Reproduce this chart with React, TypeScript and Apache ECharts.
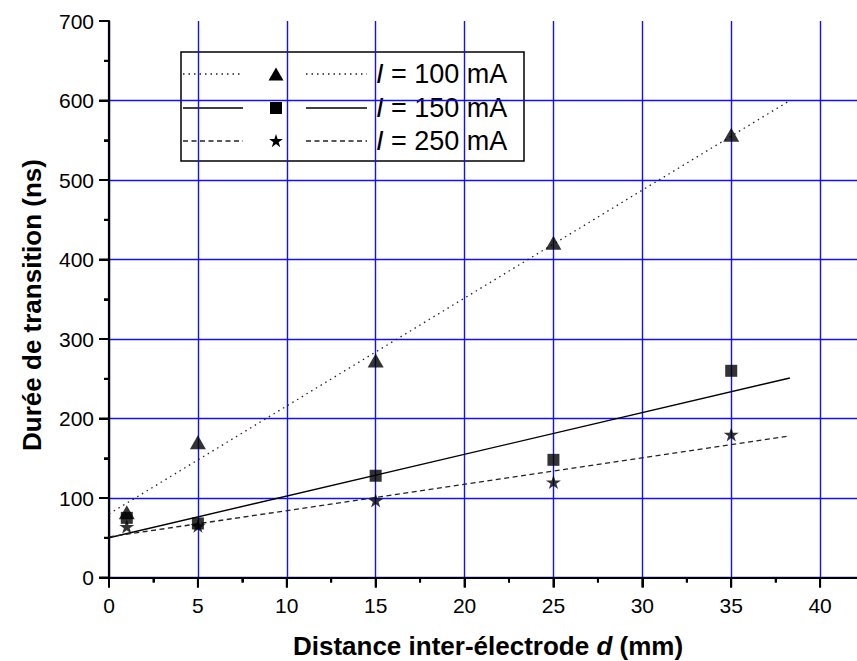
import React, { useEffect, useRef } from 'react';
import * as echarts from 'echarts';

// Data
const distances = [1, 5, 15, 25, 35]; // d (mm)
const dur100 = [82, 170, 273, 421, 557]; // I = 100 mA (ns)
const dur150 = [75, 68, 128, 148, 260]; // I = 150 mA (ns)
const dur250 = [64, 65, 97, 120, 180]; // I = 250 mA (ns)
const fit100 = [[0, 80], [38.3, 600]];
const fit150 = [[0, 50], [38.3, 251]];
const fit250 = [[0, 51], [38.3, 178]];
const currents = ['100 mA', '150 mA', '250 mA'];
const xMajorTicks = [0, 5, 10, 15, 20, 25, 30, 35, 40];
const xMinorTicks = [2.5, 7.5, 12.5, 17.5, 22.5, 27.5, 32.5, 37.5];
const yMajorTicks = [0, 100, 200, 300, 400, 500, 600, 700];
const yMinorTicks = [50, 150, 250, 350, 450, 550, 650];
const xTitle = 'Distance inter-électrode {i|d} (mm)';
const yTitle = 'Durée de transition (ns)';

const FONT = '"Liberation Sans", Arial, Helvetica, sans-serif';
const STAR_PATH =
  'M50 0 L61.23 34.55 L97.55 34.55 L68.17 55.9 L79.39 90.45 L50 69.1 L20.61 90.45 L31.83 55.9 L2.45 34.55 L38.77 34.55 Z';
const STAR_PTS = [
  [50, 0], [61.23, 34.55], [97.55, 34.55], [68.17, 55.9], [79.39, 90.45],
  [50, 69.1], [20.61, 90.45], [31.83, 55.9], [2.45, 34.55], [38.77, 34.55],
];

const lineStyles = [
  { stroke: '#222', lineWidth: 1.3, lineDash: [1.5, 4] },
  { stroke: '#000', lineWidth: 1.4, lineDash: null },
  { stroke: '#222', lineWidth: 1.3, lineDash: [5, 3.5] },
];

function legendGraphic() {
  const rowsY = [74, 108, 141];
  const children: any[] = [
    {
      type: 'rect',
      shape: { x: 181, y: 52, width: 343, height: 109 },
      style: { fill: '#fff', stroke: '#000', lineWidth: 1.5 },
    },
  ];
  rowsY.forEach((y, i) => {
    const ls = lineStyles[i];
    const st: any = { stroke: ls.stroke, lineWidth: ls.lineWidth };
    if (ls.lineDash) st.lineDash = ls.lineDash;
    children.push({ type: 'line', shape: { x1: 183, y1: y, x2: 243, y2: y }, style: { ...st } });
    children.push({ type: 'line', shape: { x1: 306, y1: y, x2: 367, y2: y }, style: { ...st } });
    const cx = 276;
    if (i === 0) {
      children.push({
        type: 'polygon',
        shape: { points: [[cx - 7.5, y + 6.5], [cx + 7.5, y + 6.5], [cx, y - 6.5]] },
        style: { fill: '#000' },
      });
    } else if (i === 1) {
      children.push({ type: 'rect', shape: { x: cx - 6, y: y - 6, width: 12, height: 12 }, style: { fill: '#000' } });
    } else {
      const s = 0.145;
      children.push({
        type: 'polygon',
        shape: { points: STAR_PTS.map(([px, py]) => [cx + (px - 50) * s, y + (py - 48) * s]) },
        style: { fill: '#000' },
      });
    }
    children.push({
      type: 'text',
      x: 376,
      y: y,
      style: {
        text: '{i|I} = ' + currents[i],
        fontSize: 27,
        fontFamily: FONT,
        fill: '#000',
        align: 'left',
        verticalAlign: 'middle',
        rich: { i: { fontStyle: 'italic', fontSize: 27, fontFamily: FONT, fill: '#000' } },
      },
    });
  });
  return { type: 'group', z: 100, children };
}

// Tick marks drawn through the axes' own scales (value -> pixel via api.coord)
function tickSeries(values: number[], onX: boolean, len: number) {
  return {
    type: 'custom',
    coordinateSystem: 'cartesian2d',
    clip: false,
    silent: true,
    z: 10,
    data: values.map((v) => (onX ? [v, 0] : [0, v])),
    renderItem: (params: any, api: any) => {
      const p = api.coord([api.value(0), api.value(1)]);
      const shape = onX
        ? { x1: p[0], y1: p[1], x2: p[0], y2: p[1] + len }
        : { x1: p[0], y1: p[1], x2: p[0] - len, y2: p[1] };
      return { type: 'line', shape, style: { stroke: '#000', lineWidth: 2 } };
    },
  };
}

export default function App() {
  const ref = useRef<HTMLDivElement>(null);
  useEffect(() => {
    document.body.style.margin = '0';
    const chart = echarts.init(ref.current!, null, { renderer: 'svg' });
    const toPairs = (ys: number[]) => distances.map((d, i) => [d, ys[i]]);
    chart.setOption({
      animation: false,
      backgroundColor: '#fff',
      grid: { left: 109, top: 21, width: 800, bottom: 83.5, outerBoundsMode: 'none' },
      xAxis: {
        type: 'value',
        min: 0,
        max: 45,
        interval: 5,
        axisLine: { show: true, onZero: false, lineStyle: { color: '#000', width: 2.2 } },
        axisTick: { show: true, inside: false, length: 10, lineStyle: { color: '#000', width: 2 } },
        minorTick: { show: true, splitNumber: 2, length: 5, lineStyle: { color: '#000', width: 2 } },
        axisLabel: { fontSize: 21, color: '#000', margin: 17, fontFamily: FONT, showMaxLabel: false },
        splitLine: { show: true, lineStyle: { color: '#1010ff', width: 1.4 } },
      },
      yAxis: {
        type: 'value',
        min: 0,
        max: 700,
        interval: 100,
        axisLine: { show: true, onZero: false, lineStyle: { color: '#000', width: 2.2 } },
        axisTick: { show: true, inside: false, length: 10, lineStyle: { color: '#000', width: 2 } },
        minorTick: { show: true, splitNumber: 2, length: 5, lineStyle: { color: '#000', width: 2 } },
        axisLabel: { fontSize: 21, color: '#000', margin: 15, fontFamily: FONT },
        splitLine: { show: true, showMaxLine: false, lineStyle: { color: '#1010ff', width: 1.4 } },
      },
      series: [
        {
          type: 'line', data: fit100, symbol: 'none', z: 3,
          lineStyle: { color: '#222', width: 1.3, type: [1.5, 4] },
        },
        {
          type: 'line', data: fit150, symbol: 'none', z: 3,
          lineStyle: { color: '#000', width: 1.4, type: 'solid' },
        },
        {
          type: 'line', data: fit250, symbol: 'none', z: 3,
          lineStyle: { color: '#222', width: 1.3, type: [5, 3.5] },
        },
        {
          type: 'scatter', data: toPairs(dur100), symbol: 'triangle', symbolSize: [16, 14], z: 5,
          itemStyle: { color: '#000' },
        },
        {
          type: 'scatter', data: toPairs(dur150), symbol: 'rect', symbolSize: 12, z: 5,
          itemStyle: { color: '#000' },
        },
        {
          type: 'scatter', data: toPairs(dur250), symbol: 'path://' + STAR_PATH, symbolSize: [15, 14], z: 6,
          itemStyle: { color: '#000' },
        },
        tickSeries(xMajorTicks, true, 10),
        tickSeries(xMinorTicks, true, 5),
        tickSeries(yMajorTicks, false, 10),
        tickSeries(yMinorTicks, false, 5),
      ],
      graphic: [
        legendGraphic(),
        {
          type: 'text',
          x: 488,
          y: 646,
          style: {
            text: xTitle,
            fontSize: 26,
            lineHeight: 26,
            fontWeight: 'bold',
            fontFamily: FONT,
            fill: '#000',
            align: 'center',
            verticalAlign: 'middle',
            rich: { i: { fontStyle: 'italic', fontWeight: 'bold', fontSize: 26, lineHeight: 26, fontFamily: FONT, fill: '#000' } },
          },
        },
        {
          type: 'text',
          x: 32,
          y: 305,
          rotation: Math.PI / 2,
          style: {
            text: yTitle,
            fontSize: 26,
            fontWeight: 'bold',
            fontFamily: FONT,
            fill: '#000',
            align: 'center',
            verticalAlign: 'middle',
          },
        },
      ],
    });
    return () => chart.dispose();
  }, []);
  return <div ref={ref} style={{ width: 857, height: 661, overflow: 'hidden' }} />;
}
